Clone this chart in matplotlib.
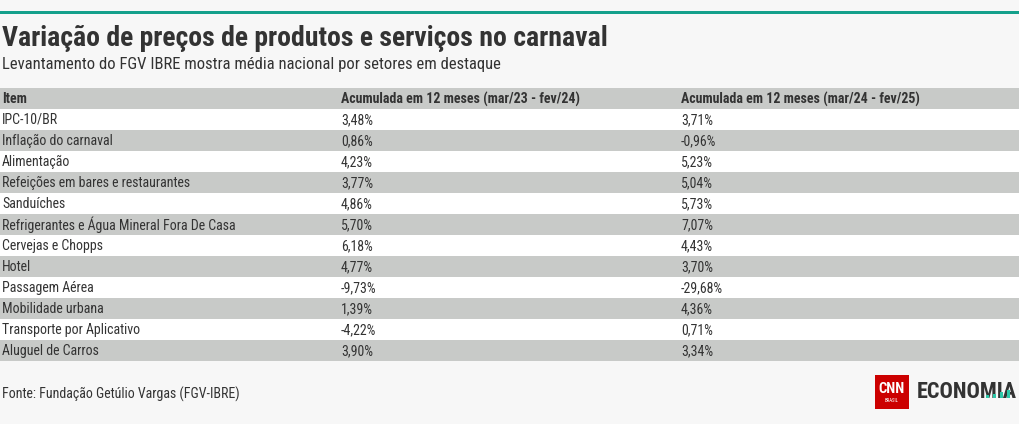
import matplotlib
matplotlib.use("Agg")
import matplotlib.pyplot as plt
from matplotlib import font_manager as fm
from matplotlib.patches import Rectangle

items = ["IPC-10/BR", "Inflação do carnaval", "Alimentação", "Refeições em bares e restaurantes",
         "Sanduíches", "Refrigerantes e Água Mineral Fora De Casa", "Cervejas e Chopps", "Hotel",
         "Passagem Aérea", "Mobilidade urbana", "Transporte por Aplicativo", "Aluguel de Carros"]
col_2324 = ["3,48%", "0,86%", "4,23%", "3,77%", "4,86%", "5,70%", "6,18%", "4,77%", "-9,73%",
            "1,39%", "-4,22%", "3,90%"]
col_2425 = ["3,71%", "-0,96%", "5,23%", "5,04%", "5,73%", "7,07%", "4,43%", "3,70%", "-29,68%",
            "4,36%", "0,71%", "3,34%"]
headers = ["Item", "Acumulada em 12 meses (mar/23 - fev/24)", "Acumulada em 12 meses (mar/24 - fev/25)"]

title = "Variação de preços de produtos e serviços no carnaval"
subtitle = "Levantamento do FGV IBRE mostra média nacional por setores em destaque"
source = "Fonte: Fundação Getúlio Vargas (FGV-IBRE)"

names = {f.name for f in fm.fontManager.ttflist}
font = "Roboto"
for cand in ["Roboto Condensed", "Liberation Sans Narrow"]:
    if cand in names:
        font = cand
        break

W, H = 1020, 424
fig = plt.figure(figsize=(W / 100, H / 100), dpi=100)
fig.patch.set_facecolor("#f7f7f7")
ax = fig.add_axes([0, 0, 1, 1])
ax.set_xlim(0, W)
ax.set_ylim(H, 0)
ax.axis("off")

# top teal line
ax.add_patch(Rectangle((0, 10.5), W, 3, color="#14a08b", lw=0))

ax.text(2, 39, title, fontsize=20, fontweight="bold", color="#333333", family=font,
        va="center", ha="left")
ax.text(2, 64, subtitle, fontsize=12, color="#333333", family=font, va="center", ha="left")

gray = "#c8cac8"
row_h = 21
top = 88
col_x = [2, 341, 681]
ax.add_patch(Rectangle((0, top), W, row_h, color=gray, lw=0))
for j, h in enumerate(headers):
    ax.text(col_x[j], top + row_h / 2 + 0.5, h, fontsize=10, fontweight="bold", color="#333333",
            family=font, va="center", ha="left")
for i, (a, b, c) in enumerate(zip(items, col_2324, col_2425)):
    y0 = top + row_h * (i + 1)
    ax.add_patch(Rectangle((0, y0), W, row_h, color=(gray if i % 2 else "#ffffff"), lw=0))
    for j, t in enumerate((a, b, c)):
        ax.text(col_x[j], y0 + row_h / 2 + 0.5, t, fontsize=10, color="#333333", family=font,
                va="center", ha="left")

ax.text(2, 394, source, fontsize=10, color="#333333", family=font, va="center", ha="left")

# logo
ax.add_patch(Rectangle((875, 375), 34, 34, color="#cc0000", lw=0))
ax.text(892, 389, "CNN", fontsize=10.5, fontweight="bold", color="white", family=font,
        ha="center", va="center")
ax.text(892, 401, "BRASIL", fontsize=3.5, color="white", family=font, ha="center", va="center")
ax.text(917, 392, "ECONOMIA", fontsize=16, fontweight="bold", color="#333333", family=font,
        ha="left", va="center")
for k, hh in enumerate([3, 4, 6, 8]):
    ax.add_patch(Rectangle((986 + k * 7, 398 - hh), 3, hh, color="#2cc7a8", lw=0, zorder=4))

fig.savefig("out.png", dpi=100, facecolor=fig.get_facecolor())
